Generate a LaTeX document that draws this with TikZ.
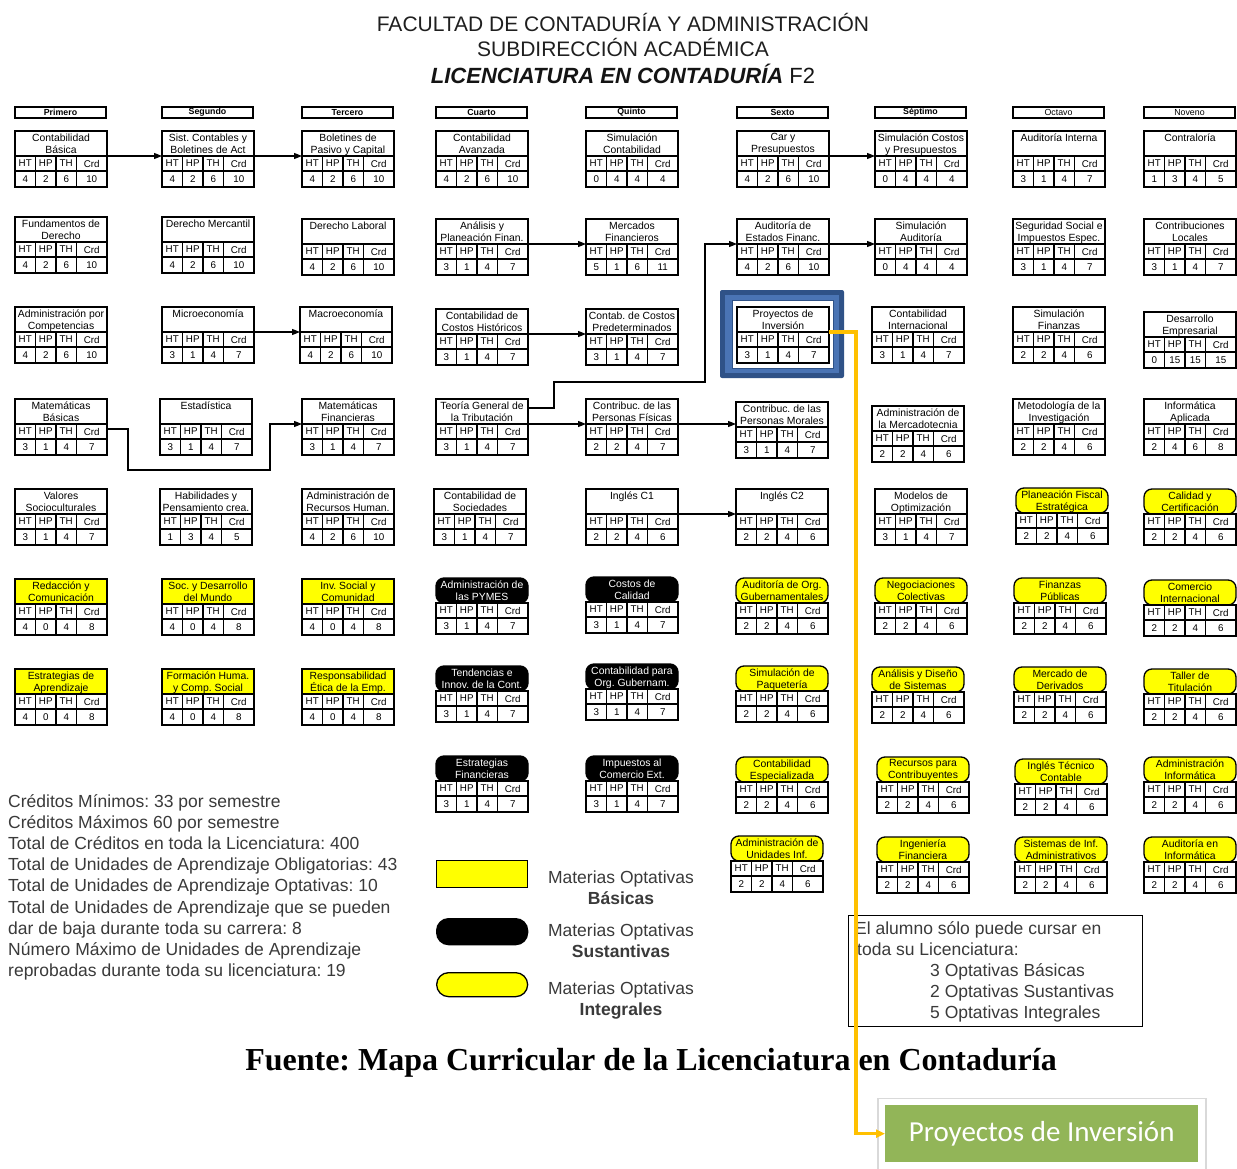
\documentclass[tikz,border=0pt]{standalone}
\usepackage{fontspec}
\setmainfont{Liberation Sans}
\newfontfamily\tnr{Liberation Serif}
\newfontfamily\carl{Carlito}
\usetikzlibrary{arrows.meta,calc}
\frenchspacing
\definecolor{myyel}{HTML}{FFFF00}
\definecolor{myorange}{HTML}{FFC000}
\definecolor{navyA}{HTML}{2F5287}
\definecolor{blueB}{HTML}{4A74B4}
\definecolor{greenbox}{HTML}{92B558}
\definecolor{txtgray}{HTML}{3A3A3A}
\tikzset{
  ttlbase/.style={draw, line width=1.3pt, minimum width=92pt, minimum height=25pt, inner sep=0pt, outer sep=0pt, anchor=north west},
  ttl-p/.style={ttlbase, fill=white},
  ttl-y/.style={ttlbase, fill=myyel},
  ttl-yr/.style={ttlbase, fill=myyel, rounded corners=8pt},
  ttl-br/.style={ttlbase, fill=black, rounded corners=8pt},
  ttxbase/.style={anchor=north, align=center, inner sep=0pt, font=\fontsize{10.4}{12}\selectfont},
  ttx-p/.style={ttxbase},
  ttx-y/.style={ttxbase},
  ttx-yr/.style={ttxbase},
  ttx-br/.style={ttxbase, text=white},
  cA/.style={draw, line width=1.3pt, minimum width=20.5pt, minimum height=15pt, inner sep=0pt, outer sep=0pt, anchor=north west, font=\fontsize{9.8}{9.8}\selectfont},
  cB/.style={cA, minimum width=30.5pt},
  hdr/.style={draw, line width=1.2pt, minimum width=91pt, minimum height=11pt, inner sep=0pt, outer sep=0pt, anchor=north west, font=\fontsize{8.8}{8.8}\selectfont\bfseries},
  hdrn/.style={hdr, font=\fontsize{8.8}{8.8}\selectfont},
  arr/.style={line width=1.1pt, -{Triangle[length=8pt,width=6pt]}},
  orl/.style={draw=myorange, line width=3.2pt, -{Triangle[length=9pt,width=8pt]}},
  ltxt/.style={anchor=base west, inner sep=0pt, text=txtgray, font=\fontsize{17.5}{21}\selectfont},
  lgt/.style={anchor=base, inner sep=0pt, text=txtgray, font=\fontsize{17.5}{21}\selectfont},
  lgb/.style={anchor=base, inner sep=0pt, text=txtgray, font=\fontsize{17.5}{21}\selectfont\bfseries},
}
\newcommand\crs[9]{%
  \node[ttl-#4] (#1-t) at (#2,#3) {};
  \node[ttx-#4] (#1-n) at ([yshift=-2.5pt]#1-t.north) {#5};
  \node[cA] (#1-a) at (#1-t.south west) {HT};
  \node[cA] (#1-b) at (#1-a.north east) {HP};
  \node[cA] (#1-c) at (#1-b.north east) {TH};
  \node[cB] (#1-d) at (#1-c.north east) {Crd};
  \node[cA, minimum height=16pt] (#1-e) at (#1-a.south west) {#6};
  \node[cA, minimum height=16pt] (#1-f) at (#1-e.north east) {#7};
  \node[cA, minimum height=16pt] (#1-g) at (#1-f.north east) {#8};
  \node[cB, minimum height=16pt] (#1-h) at (#1-g.north east) {#9};
}
\begin{document}
\begin{tikzpicture}[x=1pt,y=-1pt]
\fill[white] (0,0) rectangle (1237,1169);
\useasboundingbox (0,0) rectangle (1237,1169);

% titles
\node[anchor=base, inner sep=0pt, text=black!88, font=\fontsize{21}{21}\selectfont] (T1) at (623,32) {FACULTAD DE CONTADURÍA Y ADMINISTRACIÓN};
\node[anchor=base, inner sep=0pt, text=black!88, font=\fontsize{21}{21}\selectfont] (T2) at (623,57) {SUBDIRECCIÓN ACADÉMICA};
\node[anchor=base, inner sep=0pt, text=black!92, font=\fontsize{22}{22}\selectfont] (T3) at (623,84) {\textbf{\textit{LICENCIATURA EN CONTADURÍA}} F2};

% semester headers
\node[hdr] (h1) at (15,107) {Primero};
\node[hdr] (h2) at (162,107) {Segundo};
\node[hdr] (h3) at (302,107) {Tercero};
\node[hdr] (h4) at (436,107) {Cuarto};
\node[hdr] (h5) at (586,107) {Quinto};
\node[hdr] (h6) at (737,107) {Sexto};
\node[hdr] (h7) at (875,107) {Séptimo};
\node[hdrn] (h8) at (1013,107) {Octavo};
\node[hdrn] (h9) at (1144,107) {Noveno};

% highlight frame
\fill[navyA, rounded corners=2pt] (720,290) rectangle (844,378);
\fill[blueB] (725,295) rectangle (839,373);
\fill[white] (732,300) rectangle (833,368);
\draw[navyA, line width=1pt] (732,300) rectangle (833,368);

% row 1
\crs{r1c1}{15}{131}{p}{Contabilidad\\Básica}{4}{2}{6}{10}
\crs{r1c2}{162}{131}{p}{Sist. Contables y\\Boletines de Act}{4}{2}{6}{10}
\crs{r1c3}{302}{131}{p}{Boletines de\\Pasivo y Capital}{4}{2}{6}{10}
\crs{r1c4}{436}{131}{p}{Contabilidad\\Avanzada}{4}{2}{6}{10}
\crs{r1c5}{586}{131}{p}{Simulación\\Contabilidad}{0}{4}{4}{4}
\crs{r1c6}{737}{131}{p}{Car y\\Presupuestos}{4}{2}{6}{10}
\crs{r1c7}{875}{131}{p}{Simulación Costos\\y Presupuestos}{0}{4}{4}{4}
\crs{r1c8}{1013}{131}{p}{Auditoría Interna}{3}{1}{4}{7}
\crs{r1c9}{1144}{131}{p}{Contraloría}{1}{3}{4}{5}
% row 2
\crs{r2c1}{15}{217}{p}{Fundamentos de\\Derecho}{4}{2}{6}{10}
\crs{r2c2}{162}{217}{p}{Derecho Mercantil}{4}{2}{6}{10}
\crs{r2c3}{302}{219}{p}{Derecho Laboral}{4}{2}{6}{10}
\crs{r2c4}{436}{219}{p}{Análisis y\\Planeación Finan.}{3}{1}{4}{7}
\crs{r2c5}{586}{219}{p}{Mercados\\Financieros}{5}{1}{6}{11}
\crs{r2c6}{737}{219}{p}{Auditoría de\\Estados Financ.}{4}{2}{6}{10}
\crs{r2c7}{875}{219}{p}{Simulación\\Auditoría}{0}{4}{4}{4}
\crs{r2c8}{1013}{219}{p}{Seguridad Social e\\Impuestos Espec.}{3}{1}{4}{7}
\crs{r2c9}{1144}{219}{p}{Contribuciones\\Locales}{3}{1}{4}{7}
% row 3
\crs{r3c1}{15}{307}{p}{Administración por\\Competencias}{4}{2}{6}{10}
\crs{r3c2}{162}{307}{p}{Microeconomía}{3}{1}{4}{7}
\crs{r3c3}{300}{307}{p}{Macroeconomía}{4}{2}{6}{10}
\crs{r3c4}{436}{309}{p}{Contabilidad de\\Costos Históricos}{3}{1}{4}{7}
\crs{r3c5}{586}{309}{p}{Contab. de Costos\\Predeterminados}{3}{1}{4}{7}
\crs{r3c6}{737}{307}{p}{Proyectos de\\Inversión}{3}{1}{4}{7}
\crs{r3c7}{872}{307}{p}{Contabilidad\\Internacional}{3}{1}{4}{7}
\crs{r3c8}{1013}{307}{p}{Simulación\\Finanzas}{2}{2}{4}{6}
\crs{r3c9}{1144}{312}{p}{Desarrollo\\Empresarial}{0}{15}{15}{15}
% row 4
\crs{r4c1}{15}{399}{p}{Matemáticas\\Básicas}{3}{1}{4}{7}
\crs{r4c2}{160}{399}{p}{Estadística}{3}{1}{4}{7}
\crs{r4c3}{302}{399}{p}{Matemáticas\\Financieras}{3}{1}{4}{7}
\crs{r4c4}{436}{399}{p}{Teoría General de\\la Tributación}{3}{1}{4}{7}
\crs{r4c5}{586}{399}{p}{Contribuc. de las\\Personas Físicas}{2}{2}{4}{7}
\crs{r4c6}{736}{402}{p}{Contribuc. de las\\Personas Morales}{3}{1}{4}{7}
\crs{r4c7}{872}{406}{p}{Administración de\\la Mercadotecnia}{2}{2}{4}{6}
\crs{r4c8}{1013}{399}{p}{Metodología de la\\Investigación}{2}{2}{4}{6}
\crs{r4c9}{1144}{399}{p}{Informática\\Aplicada}{2}{4}{6}{8}
% row 5
\crs{r5c1}{15}{489}{p}{Valores\\Socioculturales}{3}{1}{4}{7}
\crs{r5c2}{160}{489}{p}{Habilidades y\\Pensamiento crea.}{1}{3}{4}{5}
\crs{r5c3}{302}{489}{p}{Administración de\\Recursos Human.}{4}{2}{6}{10}
\crs{r5c4}{434}{489}{p}{Contabilidad de\\Sociedades}{3}{1}{4}{7}
\crs{r5c5}{586}{489}{p}{Inglés C1}{2}{2}{4}{6}
\crs{r5c6}{736}{489}{p}{Inglés C2}{2}{2}{4}{6}
\crs{r5c7}{875}{489}{p}{Modelos de\\Optimización}{3}{1}{4}{7}
\crs{r5c8}{1016}{488}{yr}{Planeación Fiscal\\Estratégica}{2}{2}{4}{6}
\crs{r5c9}{1144}{489}{yr}{Calidad y\\Certificación}{2}{2}{4}{6}
% row 6
\crs{r6c1}{15}{579}{y}{Redacción y\\Comunicación}{4}{0}{4}{8}
\crs{r6c2}{162}{579}{y}{Soc. y Desarrollo\\del Mundo}{4}{0}{4}{8}
\crs{r6c3}{302}{579}{y}{Inv. Social y\\Comunidad}{4}{0}{4}{8}
\crs{r6c4}{436}{578}{br}{Administración de\\las PYMES}{3}{1}{4}{7}
\crs{r6c5}{586}{577}{br}{Costos de\\Calidad}{3}{1}{4}{7}
\crs{r6c6}{736}{578}{yr}{Auditoría de Org.\\Gubernamentales}{2}{2}{4}{6}
\crs{r6c7}{875}{578}{yr}{Negociaciones\\Colectivas}{2}{2}{4}{6}
\crs{r6c8}{1014}{578}{yr}{Finanzas\\Públicas}{2}{2}{4}{6}
\crs{r6c9}{1144}{580}{yr}{Comercio\\Internacional}{2}{2}{4}{6}
% row 7
\crs{r7c1}{15}{669}{y}{Estrategias de\\Aprendizaje}{4}{0}{4}{8}
\crs{r7c2}{162}{669}{y}{Formación Huma.\\y Comp. Social}{4}{0}{4}{8}
\crs{r7c3}{302}{669}{y}{Responsabilidad\\Ética de la Emp.}{4}{0}{4}{8}
\crs{r7c4}{436}{666}{br}{Tendencias e\\Innov. de la Cont.}{3}{1}{4}{7}
\crs{r7c5}{586}{664}{br}{Contabilidad para\\Org. Gubernam.}{3}{1}{4}{7}
\crs{r7c6}{736}{666}{yr}{Simulación de\\Paquetería}{2}{2}{4}{6}
\crs{r7c7}{872}{667}{yr}{Análisis y Diseño\\de Sistemas}{2}{2}{4}{6}
\crs{r7c8}{1014}{667}{yr}{Mercado de\\Derivados}{2}{2}{4}{6}
\crs{r7c9}{1144}{669}{yr}{Taller de\\Titulación}{2}{2}{4}{6}
% row 8
\crs{r8c4}{436}{756}{br}{Estrategias\\Financieras}{3}{1}{4}{7}
\crs{r8c5}{586}{756}{br}{Impuestos al\\Comercio Ext.}{3}{1}{4}{7}
\crs{r8c6}{736}{757}{yr}{Contabilidad\\Especializada}{2}{2}{4}{6}
\crs{r8c7}{877}{757}{yr}{Recursos para\\Contribuyentes}{2}{2}{4}{6}
\crs{r8c8}{1015}{759}{yr}{Inglés Técnico\\Contable}{2}{2}{4}{6}
\crs{r8c9}{1144}{757}{yr}{Administración\\Informática}{2}{2}{4}{6}
% row 9
\crs{r9c6}{731}{836}{yr}{Administración de\\Unidades Inf.}{2}{2}{4}{6}
\crs{r9c7}{877}{837}{yr}{Ingeniería\\Financiera}{2}{2}{4}{6}
\crs{r9c8}{1015}{837}{yr}{Sistemas de Inf.\\Administrativos}{2}{2}{4}{6}
\crs{r9c9}{1144}{837}{yr}{Auditoría en\\Informática}{2}{2}{4}{6}

% connectors
\draw[arr] (r1c1-t.south east) -- (r1c2-t.south west);
\draw[arr] (r1c2-t.south east) -- (r1c3-t.south west);
\draw[arr] (r1c6-t.south east) -- (r1c7-t.south west);
\draw[arr] (r2c4-t.south east) -- (r2c5-t.south west);
\draw[arr] (r2c6-t.south east) -- (r2c7-t.south west);
\draw[arr] (r3c2-t.south east) -- (r3c3-t.south west);
\draw[arr] (r3c4-t.south east) -- (r3c5-t.south west);
\draw[arr] (r4c4-t.south east) -- (r4c5-t.south west);
\draw[arr] (r4c5-t.south east) -- (r4c5-t.south east -| r4c6-t.west);
\draw[arr] (r5c5-t.south east) -- (r5c6-t.south west);
\draw[arr] ([yshift=3.5pt]r4c4-t.east) -- ++(26,0) |- (705,382) |- (r2c6-t.south west);
\draw[arr] ([yshift=2.5pt]r4c1-d.east) -| (128,470) -| (270,424) -- (r4c3-t.south west);

% left notes
\foreach \t [count=\i] in {Créditos Mínimos: 33 por semestre,
  Créditos Máximos 60 por semestre,
  Total de Créditos en toda la Licenciatura: 400,
  Total de Unidades de Aprendizaje Obligatorias: 43,
  Total de Unidades de Aprendizaje Optativas: 10,
  Total de Unidades de Aprendizaje que se pueden,
  dar de baja durante toda su carrera: 8,
  Número Máximo de Unidades de Aprendizaje,
  reprobadas durante toda su licenciatura: 19}
  \node[ltxt] (L\i) at (8,{807+21.2*(\i-1)}) {\t};

% legend
\node[draw, line width=1.3pt, fill=myyel, minimum width=91pt, minimum height=27pt, anchor=north west, inner sep=0pt] (LG1) at (436,860) {};
\node[draw, line width=1.3pt, fill=black, rounded corners=12pt, minimum width=91pt, minimum height=26pt, anchor=north west, inner sep=0pt] (LG2) at (436,918) {};
\node[draw, line width=1.3pt, fill=myyel, rounded corners=12pt, minimum width=91pt, minimum height=24pt, anchor=north west, inner sep=0pt] (LG3) at (436,972) {};
\node[lgt] (LT1) at (621,883) {Materias Optativas};
\node[lgb] (LB1) at (621,904) {Básicas};
\node[lgt] (LT2) at (621,936) {Materias Optativas};
\node[lgb] (LB2) at (621,957) {Sustantivas};
\node[lgt] (LT3) at (621,994) {Materias Optativas};
\node[lgb] (LB3) at (621,1015) {Integrales};

% rule box
\node[draw, line width=1.3pt, minimum width=294pt, minimum height=111pt, anchor=north west, inner sep=0pt] (N) at (848,915) {};
\node[ltxt] (N1) at (855,934) {El alumno sólo puede cursar en};
\node[ltxt] (N2) at (857,955) {toda su Licenciatura:};
\node[ltxt] (N3) at (930,976) {3 Optativas Básicas};
\node[ltxt] (N4) at (930,997) {2 Optativas Sustantivas};
\node[ltxt] (N5) at (930,1018) {5 Optativas Integrales};

% caption
\node[anchor=base, inner sep=0pt, font=\tnr\bfseries\fontsize{32}{32}\selectfont] (CAP) at (651,1070) {Fuente: Mapa Curricular de la Licenciatura en Contaduría};

% green callout
\fill[black!15] (877,1098) rectangle (1207,1169);
\fill[white] (879,1099) rectangle (1205,1169);
\node[fill=greenbox, minimum width=313pt, minimum height=57pt, anchor=north west, inner sep=0pt, text=white, font=\carl\fontsize{29}{29}\selectfont] (G) at (885,1105) {Proyectos de Inversión};

% orange link
\draw[orl] (r3c6-t.south east) -- ++(27,0) |- (G.west);
\end{tikzpicture}
\end{document}
